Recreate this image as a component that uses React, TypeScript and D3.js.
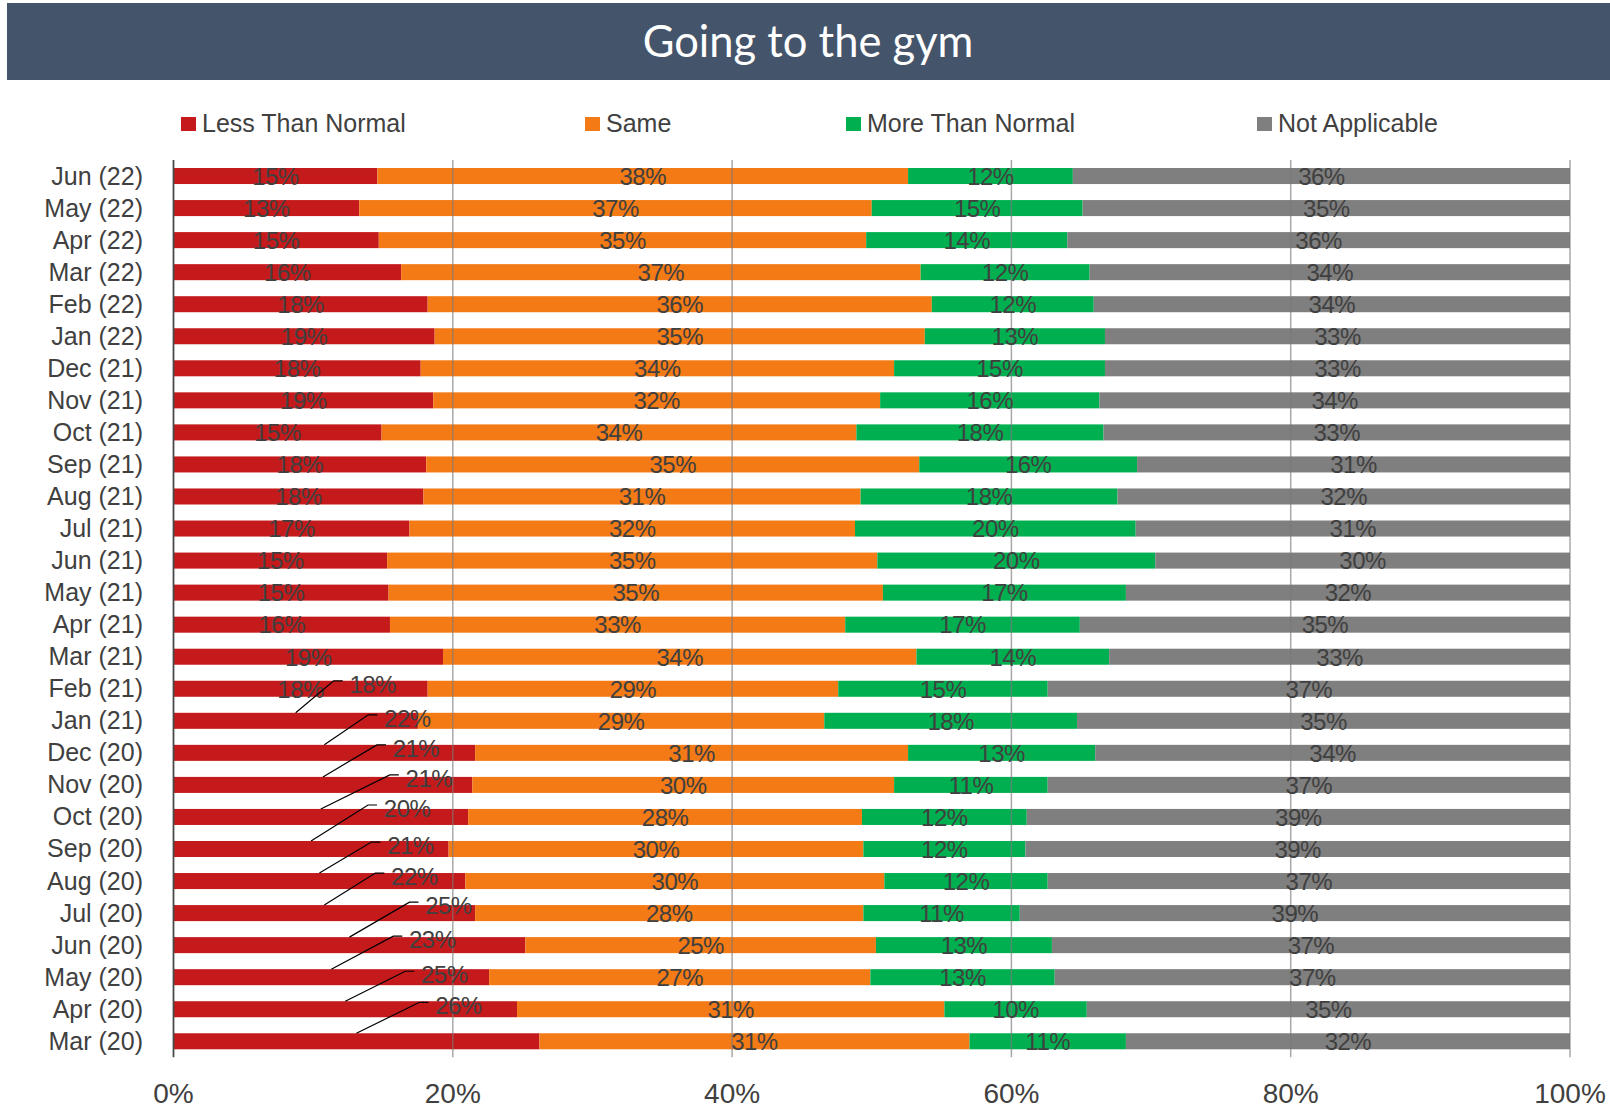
import React from 'react';
import * as d3 from 'd3';

// ---------- DATA ----------
const categories = [
  'Jun (22)', 'May (22)', 'Apr (22)', 'Mar (22)', 'Feb (22)', 'Jan (22)',
  'Dec (21)', 'Nov (21)', 'Oct (21)', 'Sep (21)', 'Aug (21)', 'Jul (21)',
  'Jun (21)', 'May (21)', 'Apr (21)', 'Mar (21)', 'Feb (21)', 'Jan (21)',
  'Dec (20)', 'Nov (20)', 'Oct (20)', 'Sep (20)', 'Aug (20)', 'Jul (20)',
  'Jun (20)', 'May (20)', 'Apr (20)', 'Mar (20)',
];

const lessThanNormal = [
  14.6, 13.3, 14.7, 16.3, 18.2, 18.7, 17.7, 18.6, 14.9, 18.1, 17.9, 16.9,
  15.3, 15.4, 15.5, 19.3, 18.2, 17.5, 21.6, 21.4, 21.1, 19.7, 20.9, 21.6,
  25.2, 22.6, 24.6, 26.2,
];
const same = [
  38.0, 36.7, 34.9, 37.2, 36.1, 35.1, 33.9, 32.0, 34.0, 35.3, 31.3, 31.9,
  35.1, 35.4, 32.6, 33.9, 29.4, 29.1, 31.0, 30.2, 28.2, 29.7, 30.0, 27.8,
  25.1, 27.3, 30.6, 30.8,
];
const moreThanNormal = [
  11.8, 15.1, 14.4, 12.1, 11.6, 12.9, 15.1, 15.7, 17.7, 15.6, 18.4, 20.1,
  19.9, 17.4, 16.8, 13.8, 15.0, 18.1, 13.4, 11.0, 11.8, 11.6, 11.7, 11.2,
  12.6, 13.2, 10.2, 11.2,
];
const notApplicable = [
  35.6, 34.9, 36.0, 34.4, 34.1, 33.3, 33.3, 33.7, 33.4, 31.0, 32.4, 31.1,
  29.7, 31.8, 35.1, 33.0, 37.4, 35.3, 34.0, 37.4, 38.9, 39.0, 37.4, 39.4,
  37.1, 36.9, 34.6, 31.8,
];

const seriesNames = ['Less Than Normal', 'Same', 'More Than Normal', 'Not Applicable'];
const seriesKeys = ['less', 'same', 'more', 'na'];
const xTicks = [0, 20, 40, 60, 80, 100];

// ---------- LAYOUT / STYLE ----------
const W = 1610;
const H = 1108;
const colors = ['#C41A1B', '#F47A15', '#00B050', '#7F7F7F'];
const textColor = '#404040';
const plot = { left: 173.5, right: 1570, top: 160, bottom: 1057.3 };
const legendX = [181, 585, 846, 1257];
// Data labels of the "Less Than Normal" series pulled out with leader lines
// (row index -> label offset from segment midpoint / row centre)
const leaderRows = [17, 18, 19, 20, 21, 22, 23, 24, 25, 26, 27];
const leaderDx = [77, 83, 93, 108, 96, 91, 90, 99, 101, 99, 102];
const leaderDy = [-37, -35, -37, -39, -41, -36, -37, -40, -38, -35, -36];

const FONT = '"Liberation Sans", Arial, sans-serif';

export default function App() {
  const table = categories.map((c, i) => ({
    cat: c,
    less: lessThanNormal[i],
    same: same[i],
    more: moreThanNormal[i],
    na: notApplicable[i],
  }));
  const stacked = d3.stack<any>().keys(seriesKeys)(table);

  const x = d3.scaleLinear().domain([0, 100]).range([plot.left, plot.right]);
  const y = d3
    .scaleBand<string>()
    .domain(categories)
    .range([plot.top, plot.bottom])
    .paddingInner(0.5)
    .paddingOuter(0.25);
  const bw = y.bandwidth();

  const leaderMap = new Map<number, { dx: number; dy: number }>();
  leaderRows.forEach((r, k) => leaderMap.set(r, { dx: leaderDx[k], dy: leaderDy[k] }));

  return (
    <svg
      width={W}
      height={H}
      style={{ position: 'absolute', left: 0, top: 0, background: '#fff' }}
      xmlns="http://www.w3.org/2000/svg"
    >
      <rect x={0} y={0} width={W} height={H} fill="#fff" />
      {/* Title */}
      <rect x={7} y={3} width={W - 7} height={77} fill="#44546A" />
      <text
        x={808}
        y={57}
        textAnchor="middle"
        fill="#fff"
        fontFamily='Lato, "Open Sans", sans-serif'
        fontSize={43.5}
      >
        Going to the gym
      </text>

      {/* Legend */}
      {seriesNames.map((n, i) => (
        <g key={n}>
          <rect x={legendX[i]} y={117} width={15} height={14} fill={colors[i]} />
          <text
            x={legendX[i] + 21}
            y={132}
            fill={textColor}
            fontFamily={FONT}
            fontSize={25}
          >
            {n}
          </text>
        </g>
      ))}

      {/* Bars */}
      {stacked.map((s, si) => (
        <g key={s.key} fill={colors[si]}>
          {s.map((d, i) => (
            <rect
              key={i}
              x={x(d[0])}
              y={y(categories[i])!}
              width={x(d[1]) - x(d[0])}
              height={bw}
            />
          ))}
        </g>
      ))}

      {/* Gridlines */}
      {xTicks.slice(1).map((t) => (
        <line
          key={t}
          x1={x(t)}
          x2={x(t)}
          y1={plot.top}
          y2={plot.bottom}
          stroke="#7a7a7a"
          strokeOpacity={0.65}
          strokeWidth={1.5}
        />
      ))}
      <line
        x1={x(0)}
        x2={x(0)}
        y1={plot.top}
        y2={plot.bottom}
        stroke="#4a4a4a"
        strokeWidth={1.8}
      />

      {/* Data labels */}
      {stacked.map((s, si) =>
        s.map((d, i) => {
          const cy = y(categories[i])! + bw / 2;
          const mid = x((d[0] + d[1]) / 2);
          const label = `${Math.round(d[1] - d[0])}%`;
          const lead = si === 0 ? leaderMap.get(i) : undefined;
          if (lead) {
            const lx = mid + lead.dx;
            const ly = cy + lead.dy;
            const pts: [number, number][] = [
              [mid, cy - bw / 2],
              [lx - 39, ly - 3],
              [lx - 30, ly - 3],
            ];
            return (
              <g key={`${si}-${i}`}>
                <path d={d3.line()(pts)!} fill="none" stroke="#000" strokeWidth={1.2} />
                <text
                  x={lx}
                  y={ly + 8.8}
                  textAnchor="middle"
                  fill={textColor}
                  fontFamily={FONT}
                  fontSize={24}
                  letterSpacing={-0.5}
                >
                  {label}
                </text>
              </g>
            );
          }
          return (
            <text
              key={`${si}-${i}`}
              x={mid}
              y={cy + 8.8}
              textAnchor="middle"
              fill={textColor}
              fontFamily={FONT}
              fontSize={24}
              letterSpacing={-0.5}
            >
              {label}
            </text>
          );
        })
      )}

      {/* Category labels */}
      {categories.map((c) => (
        <text
          key={c}
          x={143}
          y={y(c)! + bw / 2 + 8.5}
          textAnchor="end"
          fill={textColor}
          fontFamily={FONT}
          fontSize={25}
        >
          {c}
        </text>
      ))}

      {/* X tick labels */}
      {xTicks.map((t) => (
        <text
          key={t}
          x={x(t)}
          y={1103}
          textAnchor="middle"
          fill={textColor}
          fontFamily={FONT}
          fontSize={28}
        >
          {`${t}%`}
        </text>
      ))}
    </svg>
  );
}
